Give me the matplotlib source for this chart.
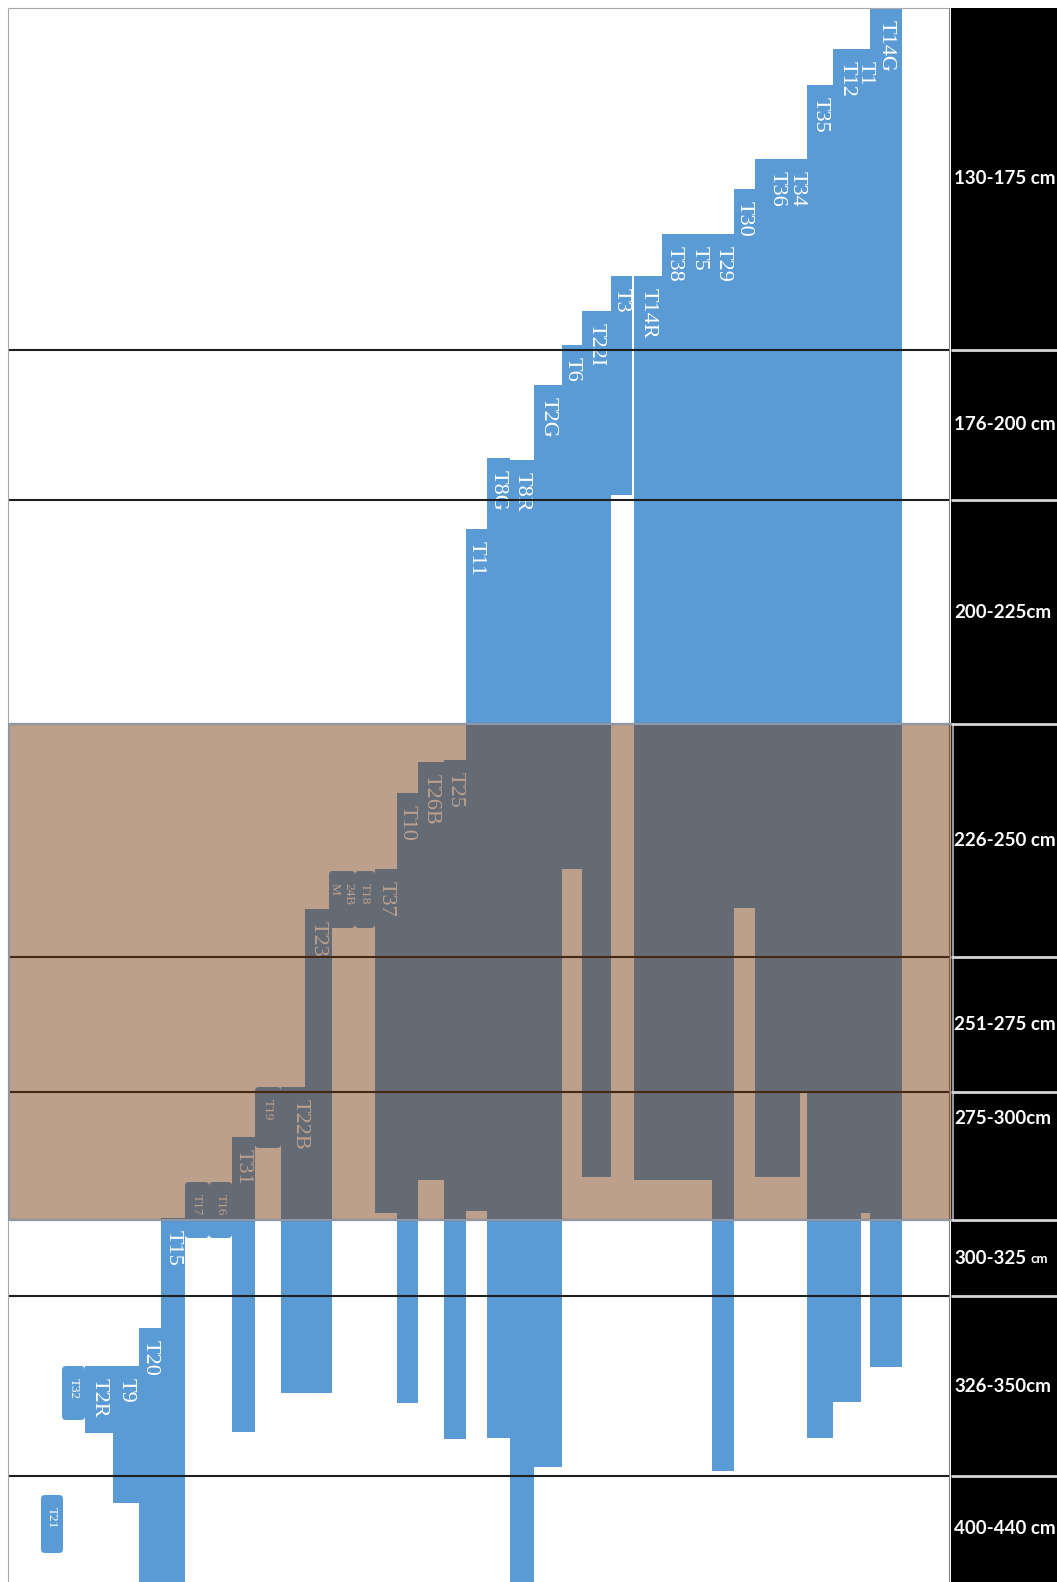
import matplotlib
matplotlib.use("Agg")
import matplotlib.pyplot as plt
from matplotlib.patches import FancyBboxPatch, Rectangle

W, H = 1057, 1582

# depth zones; edges are positions on the chart's vertical scale (0 = top)
zone_labels = ["130-175 cm", "176-200 cm", "200-225cm", "226-250 cm", "251-275 cm",
               "275-300cm", "300-325 cm", "326-350cm", "400-440 cm"]
zone_edges = [8, 350, 500, 724, 957, 1092, 1220, 1296, 1476, 1582]
highlight_zones = (3, 6)  # 226-300 cm band

# trenches: column start / end and top / bottom of the layer (same vertical scale)
labels = ["T21", "T32", "T2R", "T9", "T20", "T15", "T17", "T16", "T31", "T19",
          "T22B", "T23", "24B\nM", "T18", "T37", "T10", "T26B", "T25", "T11", "T8G",
          "T8R", "T2G", "T6", "T22I", "T3", "T14R", "T38", "T5", "T29", "T30",
          "T36", "T34", "T35", "T12", "T1", "T14G"]
col_start = [41, 62, 85, 113, 139, 161, 185, 209, 232, 255,
             281, 305, 329, 355, 375, 397, 418, 444, 466, 487,
             510, 534, 562, 582, 611, 634, 662, 686, 712, 734,
             755, 788, 807, 833, 861, 870]
col_end = [63, 85, 113, 139, 161, 185, 209, 232, 255, 281,
           319, 332, 355, 375, 397, 418, 444, 466, 487, 510,
           534, 562, 582, 611, 632, 662, 686, 712, 734, 755,
           800, 807, 833, 861, 870, 902]
tops = [1495, 1366, 1366, 1366, 1328, 1218, 1182, 1182, 1137, 1087,
        1087, 909, 871, 871, 869, 793, 762, 760, 529, 458,
        460, 385, 345, 311, 276, 276, 234, 234, 234, 189,
        159, 159, 85, 49, 49, 8]
bottoms = [1553, 1420, 1433, 1503, 1582, 1582, 1238, 1238, 1432, 1148,
           1393, 1393, 928, 928, 1213, 1403, 1180, 1439, 1211, 1438,
           1582, 1467, 869, 1177, 495, 1180, 1180, 1180, 1471, 908,
           1177, 1093, 1438, 1402, 1213, 1367]

# small text-box trenches
boxed = {"T21", "T32", "T17", "T16", "T19", "24B\nM", "T18"}

blue = "#5b9bd5"
serif = ["Liberation Serif", "DejaVu Serif"]

fig = plt.figure(figsize=(W / 100, H / 100), dpi=100)
ax = fig.add_axes([0, 0, 1, 1])
ax.set_xlim(0, W)
ax.set_ylim(H, 0)
ax.axis("off")

plain = [i for i, lab in enumerate(labels) if lab not in boxed]
ax.bar([col_start[i] for i in plain],
       [bottoms[i] - tops[i] for i in plain],
       width=[col_end[i] - col_start[i] for i in plain],
       bottom=[tops[i] for i in plain],
       align="edge", color=blue, zorder=2)
for i, lab in enumerate(labels):
    if lab in boxed:
        ax.add_patch(FancyBboxPatch((col_start[i], tops[i]), col_end[i] - col_start[i],
                                    bottoms[i] - tops[i],
                                    boxstyle="round,pad=0,rounding_size=4",
                                    facecolor=blue, edgecolor="none", zorder=2))

for i, lab in enumerate(labels):
    small = lab in boxed
    ax.text((col_start[i] + col_end[i]) / 2, tops[i] + 12, lab, rotation=270,
            ha="center", va="top", multialignment="left", color="white",
            fontsize=9.5 if small else 16, family=serif, zorder=3)

# zone lines and frame
ax.hlines(zone_edges[1:-1], 8, 950, color="#1e1e1e", lw=1.5, zorder=3)
ax.hlines(8, 8, 950, color="#a8a8a8", lw=0.8, zorder=3)
ax.vlines(8, 8, H, color="#a8a8a8", lw=0.8, zorder=3)
ax.vlines(949, 8, H, color="#808080", lw=0.8, zorder=3)

# highlighted band
z0, z1 = highlight_zones
ax.add_patch(Rectangle((9, zone_edges[z0]), 944, zone_edges[z1] - zone_edges[z0],
                       facecolor=(113 / 255, 53 / 255, 10 / 255, 0.47),
                       edgecolor="#8d97a5", lw=1.5, zorder=5))

# black label column on the right
ax.add_patch(Rectangle((951, 8), W - 951, H - 8, facecolor="black",
                       edgecolor="none", zorder=4))
ax.hlines(zone_edges[1:-1], 951, W, color="#d6d6d6", lw=2, zorder=6)

label_shift = {5: -38}
for k, zl in enumerate(zone_labels):
    yc = (zone_edges[k] + zone_edges[k + 1]) / 2 + label_shift.get(k, 0)
    if k == 6:
        num, unit = zl.split(" ")
        t = ax.text(954, yc, num, ha="left", va="center", color="white",
                    fontsize=13.5, fontweight="bold", family=["Lato", "DejaVu Sans"],
                    zorder=7)
        ax.annotate(unit, xy=(1, 0), xycoords=t, xytext=(3, 1),
                    textcoords="offset points", ha="left", va="bottom",
                    color="white", fontsize=9.5, fontweight="bold",
                    family=["Lato", "DejaVu Sans"], zorder=7)
    else:
        ax.text(954, yc, zl, ha="left", va="center", color="white",
                fontsize=13.5, fontweight="bold", family=["Lato", "DejaVu Sans"],
                zorder=7)

fig.savefig("out.png", dpi=100)
